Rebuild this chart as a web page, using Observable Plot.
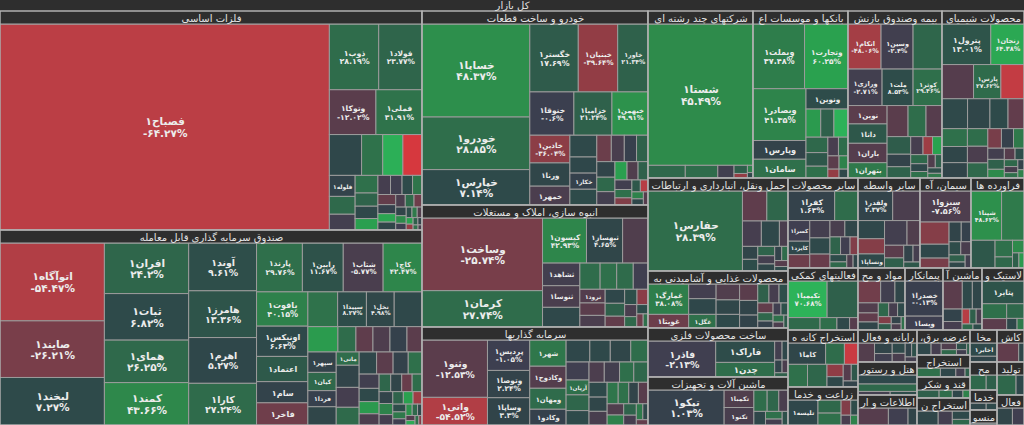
<!DOCTYPE html>
<html><head><meta charset="utf-8">
<script src="https://cdn.jsdelivr.net/npm/d3@7"></script>
<script src="https://cdn.jsdelivr.net/npm/@observablehq/plot@0.6"></script>
<style>
html,body{margin:0;padding:0;background:#2b2b2b;}
#chart svg{display:block}
</style>
</head><body><div id="chart"></div>
<script>
const W = 1024, H = 425;
const rootTitle = "کل بازار";

// ---- stocks per sector: [name, size, percent change] ----
const s01 = [["فصباح۱",67650,-64.27],["ذوب۱",3234,28.19],["فولاد۱",2838,23.77],["وتوکا۱",2080,-12.02],["فملی۱",2060,31.91],["",1312,5.2],["",861,31.4],["",820,68.1],["",779,-85.3],["فلوله۱",540,2.1],["",459,26.3],["",405,-3.4],["",400,30.2],["",300,22.5],["",280,5.8],["",260,58.6],["",240,-4.1],["",220,-2.2],["",200,7.4],["",180,33.1],["",180,-16.2],["",160,1.3],["",150,62.4],["",140,4.6],["",120,-6.3],["",110,27.5],["",100,-20.4],["",90,3.3],["",80,45.2],["",70,-1.1],["",60,8.6],["",55,35.7],["",50,-8.8],["",45,60.3],["",40,-40.5],["",35,20.1],["",30,2.2],["",25,30.4],["",20,-5.5]];
const s02 = [["اتوآگاه۱",8008,-54.47],["صایند۱",5824,-26.21],["لبخند۱",4888,7.27],["افران۱",4200,24.2],["ثبات۱",3864,6.82],["همای۱",3528,26.25],["کمند۱",3520,43.66],["آوند۱",3196,9.61],["هامرز۱",3128,13.36],["اهرم۱",3060,5.27],["کارا۱",2788,27.24],["پارند۱",2208,29.76],["رابین۱",1968,11.67],["شتاب۱",1920,-5.77],["کاج۱",1872,42.47],["یاقوت۱",1734,40.15],["اونیکس۱",1530,6.63],["اعتماد۱",1275,16.2],["سام۱",1071,2.1],["فاخر۱",1122,-21.5],["",1020,31.2],["سپیدا۱",986,8.27],["نخل۱",952,4.98],["",952,5.6],["",750,56.3],["",450,27.8],["",425,-14.2],["",425,-7.6],["",425,1.2],["",375,-12.4],["سپهر۱",570,2.3],["کیان۱",510,25.8],["فردا۱",450,0.6],["",510,4.4],["مانی۱",300,28.3],["",500,3.1],["",450,-4.2],["",400,26.7],["",380,5.3],["",360,-12.6],["",330,1.8],["",300,30.5],["",280,-2.4],["",260,6.2],["",240,55.1],["",220,-6.8],["",200,24.3],["",190,3.5],["",180,-18.2],["",170,28.6],["",160,2.7],["",150,40.3],["",140,-3.9],["",130,22.4],["",120,60.2],["",110,-45.1],["",100,8.8],["",90,35.4],["",80,-1.6],["",70,50.5],["",60,25.9],["",50,4.7],["",45,-9.3],["",40,65.2],["",35,30.1],["",30,-30.6]];
const s03 = [["خساپا۱",9936,48.37],["خودرو۱",5616,28.85],["خپارس۱",3780,7.14],["خگستر۱",3264,17.69],["خبنیان۱",2652,-39.64],["خاور۱",2040,21.34],["خنوقا۱",1892,-0.6],["خزامیا۱",1634,21.24],["خبهمن۱",1548,49.91],["خاذین۱",1100,-36.04],["ورنا۱",924,4.1],["خمهر۱",748,-6.2],["",580,6.3],["",430,5.2],["خکار۱",430,1.1],["",420,7.4],["",380,-19.8],["",340,-5.7],["",320,0.4],["",300,22.1],["",280,3.2],["",260,25.6],["",240,-3.3],["",220,58.4],["",200,-8.1],["",180,20.7],["",160,-2.5],["",140,30.2],["",120,-30.4],["",100,15.3],["",90,-60.2],["",80,40.6],["",70,5.1],["",60,-10.3]];
const s04 = [["وساخت۱",8352,-25.74],["کرمان۱",4176,27.74],["کیسون۱",1890,42.93],["ثبهساز۱",1554,4.65],["",1092,-8.3],["ثشاهد۱",805,-3.2],["ثنوسا۱",770,-6.1],["",700,5.4],["",506,28.2],["",414,30.1],["",414,27.6],["",368,-2.3],["ثرود۱",330,-9.4],["",300,-12.5],["",280,-6.2],["",260,5.1],["",240,20.3],["",200,-15.6],["",180,10.2],["",160,-35.3],["",140,-5.4],["",120,25.7],["",100,8.2],["",80,-20.6],["",60,30.4]];
const s05 = [["وثنو۱",3640,-12.53],["واتی۱",1755,-54.52],["پردیس۱",1247,-1.05],["وتوصا۱",1118,2.24],["وساپا۱",1118,3.3],["شهر۱",925,34.05],["وکادوح۱",777,-9.8],["ومهان۱",740,27.3],["وکادو۱",555,1.2],["",506,5.3],["",437,6.1],["",437,4.2],["",368,28.4],["",400,-2.2],["آریان۱",330,30.2],["",350,24.1],["",320,6.8],["",300,-6.6],["",300,-3.1],["",280,29.9],["",280,25.2],["",260,6.4],["",250,4.5],["",240,-5.3],["",230,33.3],["",220,30.6],["",200,3.3],["",200,-11.1],["",180,-8.2],["",160,40.1],["",140,22.3],["",120,-4.4],["",100,35.5],["",80,5.6],["",60,-15.7]];
const s06 = [["شستا۱",14700,45.49],["",468,25.3],["",408,28.1],["",204,-2.4],["",108,20.2],["",60,-40.3],["",40,40.5],["",30,5.2]];
const s07 = [["وبملت۱",3366,37.48],["وتجارت۱",2838,60.25],["وبصادر۱",2773,41.35],["وپارس۱",1003,2.3],["سامان۱",1003,30.2],["ونوین۱",864,8.4],["",418,55.2],["",374,20.3],["",400,70.1],["",340,25.4],["",300,15.2],["",260,30.5],["",200,-5.1],["",180,28.6],["",150,-12.3],["",120,40.7],["",100,-40.2],["",80,5.5]];
const s08 = [["اتکام۱",1344,-48.06],["وسین۱",1302,-2.4],["",1176,24.6],["ورازی۱",1122,-2.71],["ملت۱",1020,8.53],["کوثر۱",952,29.46],["نوین۱",648,-12.3],["دانا۱",684,15.2],["باران۱",684,-10.1],["بتهران۱",540,35.4],["",588,-12.2],["",504,28.3],["",448,-10.4],["",375,18.2],["",266,2.2],["",240,22.1],["",200,-4.3],["",154,-45.2],["",154,60.3],["",140,25.4],["",120,5.5],["",100,30.6],["",90,-8.1],["",80,20.2],["",70,10.3],["",60,35.4]];
const s09 = [["پترول۱",1927,13.01],["زنجان۱",1312,64.38],["",1050,-10.2],["پارس۱",910,27.62],["",770,-70.5],["",744,6.3],["",651,4.2],["",527,7.1],["",465,-15.4],["",442,30.2],["",400,4.1],["",380,3.3],["",350,28.8],["",330,-6.4],["",300,25.5],["",260,-25.6],["",230,1.2],["",200,35.3],["",180,-3.1],["",160,20.4],["",140,45.2],["",120,-10.5],["",100,8.6],["",90,25.3],["",80,-5.2],["",70,30.4],["",60,2.1],["",50,40.3]];
const s10 = [["حفارس۱",7614,28.39],["",736,-14.2],["",640,24.3],["",484,-4.5],["",462,5.6],["",220,-6.1],["",200,3.2],["",180,8.3],["",160,22.4],["",140,-3.5],["",120,4.6],["",100,2.1],["",90,28.2],["",80,-10.3],["",60,6.4]];
const s11 = [["غمارگ۱",1160,38.08],["غویتا۱",520,-20.3],["",378,-3.3],["",405,5.2],["غگل۱",351,30.4],["",350,-8.4],["",320,4.5],["",300,6.6],["",280,-12.2],["",250,3.3],["",220,2.4],["",200,20.5],["",180,-4.6],["",160,8.7],["",140,-15.8],["",120,25.1],["",100,1.2],["",90,-2.3],["",80,10.4],["",70,30.5],["",60,-6.6],["",50,15.7]];
const s12 = [["فاذر۱",2590,-2.13],["فاراک۱",1342,8.3],["چدن۱",915,28.4],["",150,-3.2],["",120,5.1],["",100,2.2],["",80,-6.3],["",60,20.4]];
const s13 = [["تپکو۱",2700,1.03],["تکمبا۱",527,-8.2],["تکنو۱",527,-5.3],["",288,28.4],["",252,24.2],["",200,-6.1],["",160,5.3],["",130,30.2],["",100,-3.4],["",80,10.5]];
const s14 = [["کفرا۱",1472,1.63],["",736,28.2],["کسرا۱",480,-2.2],["کایزد۱",312,5.3],["",310,-20.4],["",374,-3.5],["",350,6.2],["",300,-18.3],["",260,-5.4],["",230,4.2],["",200,22.3],["",180,-2.1],["",150,-30.2],["",130,8.4],["",110,25.5],["",90,-6.6],["",70,3.7]];
const s15 = [["ولقدر۱",1056,2.37],["",832,-6.3],["",495,5.2],["",416,-32.2],["ونساپا۱",384,6.1],["",572,-3.4],["",330,-8.3],["",250,-12.4],["",200,20.2],["",160,2.3],["",120,-4.1],["",100,15.2]];
const s16 = [["سبزوا۱",1650,-7.56],["",672,-32.3],["",420,5.1],["",300,-25.4],["",250,3.2],["",200,1.3],["",160,8.4],["",140,-5.5],["",120,20.6],["",100,4.7],["",80,-2.8]];
const s17 = [["شپنا۱",1560,48.62],["",1144,36.2],["",690,15.3],["",300,30.5],["",200,25.6],["",150,45.2],["",100,20.3],["",80,55.4]];
const s18 = [["تکیمیا۱",1368,70.68],["",1080,20.3],["",380,26.4],["",200,29.1],["",150,5.4],["",100,-10.5]];
const s19 = [["",486,-22.3],["",306,-2.4],["",216,4.2],["",200,-8.5],["",180,-15.1],["",160,3.6],["",140,25.2],["",120,-4.3],["",100,6.4],["",90,-30.5],["",80,18.2],["",70,2.3],["",60,-6.4],["",50,30.1]];
const s20 = [["خصدرا۱",1221,-0.13],["ویسا۱",481,-1.2]];
const s21 = [["",500,-12.3],["",260,6.2],["",250,4.3],["",220,2.1],["",150,-4.4],["",104,-60.5],["",90,20.2],["",80,-5.3],["",60,25.4],["",50,8.1]];
const s22 = [["پتایر۱",950,12.3],["",364,30.2],["",280,-12.3],["",253,25.4],["",120,5.2],["",80,35.1]];
const s23 = [["کاما۱",720,4.3],["",360,28.2],["",260,-75.4],["",396,30.1],["",396,24.2],["",180,-38.3],["",150,5.4],["",120,-10.2],["",100,15.3],["",80,2.4]];
const s24 = [["تلیسه۱",816,5.3],["",330,25.4],["",300,30.1],["",160,-30.2],["",120,8.3],["",100,-5.4],["",80,40.2]];
const s25 = [["",420,-9.2],["",250,3.1],["",200,-2.2],["",180,6.3],["",150,-5.4],["",120,2.5],["",100,10.6],["",80,-3.7]];
const s26 = [["",560,5.2],["",460,25.3],["",120,-3.4],["",100,8.5]];
const s27 = [["",510,-10.3],["",330,-2.2],["",150,3.1]];
const s28 = [["",250,5.2],["",180,-4.1],["",150,-8.3],["",120,25.4],["",100,10.2],["",80,-2.5],["",60,20.3]];
const s29 = [["",380,30.4],["",250,5.2],["",150,-3.1],["",80,20.3]];
const s30 = [["",250,20.2],["",150,28.3],["",120,5.1],["",80,40.4]];
const s31 = [["",300,4.2],["",200,-3.3],["",150,6.4],["",100,25.1]];
const s32 = [["اخابر۱",350,6.2],["",150,3.1]];
const s33 = [["",300,25.3],["",200,20.1]];
const s34 = [["",150,4.2],["",100,6.3]];
const s35 = [["",80,5.1]];
const s36 = [["",408,-15.2],["",100,4.3]];
const s37 = [["",288,25.2],["",120,5.3]];
const s38 = [["",80,3.4],["",60,-2.1]];

// ---- sectors ----
const sectorNames = ["فلزات اساسی","صندوق سرمایه گذاری قابل معامله","خودرو و ساخت قطعات","انبوه سازی، املاک و مستغلات","سرمایه گذاریها","شرکتهای چند رشته ای صنعتی","بانکها و موسسات اعتباری","بیمه وصندوق بازنشستگی به جز تامین اجتماعی","محصولات شیمیایی","حمل ونقل، انبارداری و ارتباطات","محصولات غذایی و آشامیدنی به جز قند و شکر","ساخت محصولات فلزی","ماشین آلات و تجهیزات","سایر محصولات کانی غیرفلزی","سایر واسطه گریهای مالی","سیمان، آهک و گچ","فراورده های نفتی، کک و سوخت هسته ای","فعالیتهای کمکی به نهادهای مالی واسط","مواد و محصولات دارویی","پیمانکاری صنعتی","ماشین آلات و دستگاه های برقی","لاستیک و پلاستیک","استخراج کانه های فلزی","زراعت و خدمات وابسته","رایانه و فعالیتهای وابسته به آن","هتل و رستوران","اطلاعات و ارتباطات","،عرضه برق، گاز، بخاروآب گرم","استخراج سایر معادن","قند و شکر","استخراج نفت گاز و خدمات جنبی جز اکتشاف","مخابرات","محصولات کاغذی","خدمات فنی و مهندسی","منسوجات","کاشی و سرامیک","تولید محصولات کامپیوتری الکترونیکی ونوری","فعالیت های هنری، سرگرمی و خلاقانه"];
const sectorSizes = [92418,82290,43844,27572,22148,17535,15865,15698,13694,13020,7980,6860,6720,6300,5580,4590,4770,4340,2914,2356,2418,2604,3990,2660,1888,1947,1770,1325,1166,1113,1431,864,756,540,405,864,891,810];
const sectorStocks = [s01,s02,s03,s04,s05,s06,s07,s08,s09,s10,s11,s12,s13,s14,s15,s16,s17,s18,s19,s20,s21,s22,s23,s24,s25,s26,s27,s28,s29,s30,s31,s32,s33,s34,s35,s36,s37,s38];

// ---- tiling order (groups of children laid as columns / rows) ----
const rootRows = [[2,"col"],[3,"col"],[4,"row"],[4,"col"],[4,"row"],[5,"row"],[2,"col"],[3,"col"],[4,"col"],[4,"col"],[3,"col"]];
const sectorRows = [
  [[1,"col"],[2,"row"],[2,"row"],[4,"row"]],
  [[3,"col"],[4,"col"],[4,"col"],[4,"row"],[5,"col"],[4,"row"],[6,"row"],[4,"col"]],
  [[3,"col"],[3,"row"],[3,"row"],[3,"col"],[4,"col"]],
  [[2,"col"],[3,"row"],[3,"col"],[4,"row"]],
  [[2,"col"],[3,"col"],[4,"col"],[4,"row"]],
  [[1,"row"]],
  [[2,"row"],[3,"col"],[1,"row"]],
  [[3,"row"],[3,"row"],[4,"col"]],
  [[2,"row"],[3,"row"],[4,"row"]],
  [[1,"col"]],
  [[2,"col"],[3,"col"]],
  [[1,"col"],[2,"col"]],
  [[1,"col"],[2,"col"]],
  [[2,"row"],[3,"col"]],
  [[2,"row"],[3,"col"]],
  [[1,"row"]],
  [[2,"row"]],
  [[2,"row"]],
  [],[[1,"row"]],[],[[1,"row"]],[[3,"row"]],[[1,"col"]],[],[[1,"row"],[1,"row"]],[],[],[],[],[],[[1,"row"]],[],[],[],[],[],[]
];

const colorStops = [-100,-64,-54,-40,-26,-12,-1,0,3,7,28,45,60,70,100];
const colorRange = ["#e8343a","#bb3e45","#b03e45","#933d45","#793e4a","#5a3d4c","#3d3f50","#383f4e","#314449","#2e4a4a","#2f6c4b","#2e8a4b","#2aa14f","#2db259","#33cf5f"];

// ---- hierarchy ----
const rootData = {name: rootTitle, children: sectorNames.map((n, i) => {
  const st = sectorStocks[i];
  const tot = d3.sum(st, d => d[1]);
  return {name: n, idx: i, children: st.map(d => ({name: d[0], value: d[1] / tot * sectorSizes[i], pct: d[2]}))};
})};

function rowLayout(kids, spec, x0, y0, x1, y1) {
  let i = 0, remaining = d3.sum(kids, k => k.value);
  for (const [count, orient] of spec) {
    if (i >= kids.length) break;
    const row = kids.slice(i, i + count); i += count;
    const s = d3.sum(row, k => k.value);
    if (orient === "col") {
      const w = (x1 - x0) * s / remaining; let yy = y0;
      for (const k of row) { const h = (y1 - y0) * k.value / s; k.x0 = x0; k.x1 = x0 + w; k.y0 = yy; k.y1 = yy + h; yy += h; }
      x0 += w;
    } else {
      const h = (y1 - y0) * s / remaining; let xx = x0;
      for (const k of row) { const w = (x1 - x0) * k.value / s; k.x0 = xx; k.x1 = xx + w; k.y0 = y0; k.y1 = y0 + h; xx += w; }
      y0 += h;
    }
    remaining -= s;
  }
  const rest = kids.slice(i);
  if (rest.length) d3.treemapSquarify({children: rest, value: remaining}, x0, y0, x1, y1);
}
function tile(node, x0, y0, x1, y1) {
  const spec = node.depth === 0 ? rootRows : (sectorRows[node.data.idx] || []);
  rowLayout(node.children, spec, x0, y0, x1, y1);
}
const ROOT_HEAD = 11, SEC_HEAD = 13;
const root = d3.hierarchy(rootData).sum(d => d.value || 0);
d3.treemap().size([W, H]).tile(tile)
  .paddingTop(d => d.depth === 0 ? ROOT_HEAD : (d.depth === 1 ? SEC_HEAD : 0))
  .round(false)(root);

const leaves = root.leaves();
const sectors = root.children;

// ---- text helpers ----
const FONT = "DejaVu Sans";
const ctx = document.createElement("canvas").getContext("2d");
function measure(str, font) { ctx.font = font; return ctx.measureText(str).width; }
function fit(str, width, font) {
  if (measure(str, font) <= width) return str;
  let lo = 0, hi = str.length;
  while (lo < hi) { const m = Math.ceil((lo + hi) / 2); if (measure(str.slice(0, m), font) <= width) lo = m; else hi = m - 1; }
  return str.slice(0, lo).trim();
}
const faDigits = "۰۱۲۳۴۵۶۷۸۹";
const fa = s => s.replace(/[0-9]/g, c => faDigits[+c]);
const fmtPct = v => (v < 0 ? "-" : "") + fa(String(+Math.abs(v).toFixed(2))) + "%";

const labels = leaves.filter(d => d.data.name && (d.x1 - d.x0) >= 16 && (d.y1 - d.y0) >= 8).map(d => {
  const w = d.x1 - d.x0, h = d.y1 - d.y0;
  const two = h >= 27 && w >= 26;
  const fs = Math.max(5.5, Math.min(10.5, 3.8 + w / 12, two ? h / 2.8 : h / 1.5));
  return {cx: (d.x0 + d.x1) / 2, cy: (d.y0 + d.y1) / 2, fs, text: two ? d.data.name + "\n" + fmtPct(d.data.pct) : d.data.name};
});
const headers = sectors.map(s => ({x0: s.x0, x1: s.x1, y0: s.y0, cx: (s.x0 + s.x1) / 2, text: fit(s.data.name, s.x1 - s.x0 - 4, `10px '${FONT}'`)}));

const chart = Plot.plot({
  width: W, height: H, margin: 0,
  x: {domain: [0, W], range: [0, W], axis: null},
  y: {domain: [0, H], range: [0, H], axis: null},
  color: {type: "linear", domain: colorStops, range: colorRange, clamp: true},
  style: {background: "#2b2b2b", fontFamily: FONT},
  marks: [
    Plot.rect([root], {x1: "x0", x2: "x1", y1: "y0", y2: d => d.y0 + ROOT_HEAD, fill: "#2e2e2e", inset: 0}),
    Plot.rect(leaves, {x1: "x0", x2: "x1", y1: "y0", y2: "y1", fill: d => d.data.pct, stroke: "#9c9c9c", strokeWidth: 1, inset: 0}),
    Plot.rect(sectors, {x1: "x0", x2: "x1", y1: "y0", y2: d => d.y0 + SEC_HEAD, fill: "#2e2e2e", stroke: "#a8a8a8", strokeWidth: 1, inset: 0}),
    Plot.rect(sectors, {x1: "x0", x2: "x1", y1: "y0", y2: "y1", fill: "none", stroke: "#b4b4b4", strokeWidth: 1, inset: 0}),
    Plot.text([root], {x: d => (d.x0 + d.x1) / 2, y: d => d.y0 + ROOT_HEAD / 2, text: d => d.data.name, fill: "#e4e4e4", fontSize: 10, fontFamily: FONT}),
    Plot.text(headers, {x: "cx", y: d => d.y0 + SEC_HEAD / 2 + 0.5, text: "text", fill: "#e4e4e4", fontSize: 10, fontFamily: FONT}),
    Plot.text(labels, {x: "cx", y: "cy", text: "text", fontSize: d => d.fs, fill: "#ececec", fontWeight: "bold", fontFamily: FONT, lineHeight: 1.1})
  ]
});
document.getElementById("chart").appendChild(chart);
</script>
</body></html>
